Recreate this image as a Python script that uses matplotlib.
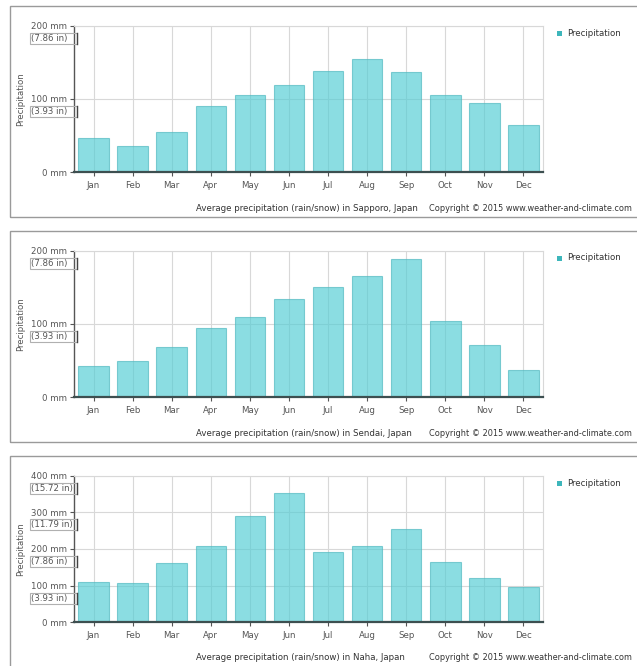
import matplotlib
matplotlib.use('Agg')
import matplotlib.pyplot as plt
from matplotlib.patches import Rectangle
from matplotlib.lines import Line2D
from matplotlib.transforms import IdentityTransform

# ── Data ──────────────────────────────────────────────────────────────────────
MONTHS = ['Jan', 'Feb', 'Mar', 'Apr', 'May', 'Jun',
          'Jul', 'Aug', 'Sep', 'Oct', 'Nov', 'Dec']
CITIES = ['Sapporo', 'Sendai', 'Naha']
sapporo_mm = [47, 36, 55, 91, 105, 119, 138, 154, 137, 106, 94, 65]
sendai_mm = [42, 50, 69, 95, 110, 134, 151, 165, 188, 104, 71, 37]
naha_mm = [110, 108, 163, 209, 290, 353, 192, 207, 255, 164, 122, 97]
SERIES = [sapporo_mm, sendai_mm, naha_mm]
YTICKS = [[0, 100, 200], [0, 100, 200], [0, 100, 200, 300, 400]]
INCH_LABELS = {100: '(3.93 in)', 200: '(7.86 in)', 300: '(11.79 in)', 400: '(15.72 in)'}

# ── Layout (pixels) ───────────────────────────────────────────────────────────
W, H = 637, 666
DPI = 100
OFFSETS = [0, 225, 450]
AX_LEFT, AX_W = 74, 469
AX_TOP, AX_H = 25.7, 146.5

BAR_FACE = '#55CDD5'
BAR_EDGE = '#4FB9C0'
GRID = '#d8d8d8'
TXT = '#555555'
FS = 6.2

fig = plt.figure(figsize=(W / DPI, H / DPI), dpi=DPI)
fig.patch.set_facecolor('white')


def fig_rect(left, top, width, height):
    return [left / W, 1 - (top + height) / H, width / W, height / H]


def px_text(x, y_top, s, size=FS, **kw):
    fig.text(x / W, 1 - y_top / H, s, fontsize=size, **kw)


for off, city, vals, yticks in zip(OFFSETS, CITIES, SERIES, YTICKS):
    # panel frame
    fig.add_artist(Rectangle((10 / W, 1 - (off + 216.5) / H), 640 / W, 210.5 / H,
                             transform=fig.transFigure, fill=False,
                             ec='#9a9a9a', lw=1))

    ax = fig.add_axes(fig_rect(AX_LEFT, off + AX_TOP, AX_W, AX_H))
    ymax = yticks[-1]
    ax.set_xlim(0, 12)
    ax.set_ylim(0, ymax)

    xs = [i + 0.5 for i in range(12)]
    for x in xs:
        ax.axvline(x, color=GRID, lw=0.8, zorder=0)
    for v in yticks[1:]:
        ax.axhline(v, color=GRID, lw=0.8, zorder=0)

    ax.bar(xs, vals, width=0.78, color=BAR_FACE, alpha=0.68,
           edgecolor=BAR_EDGE, linewidth=0.8, zorder=2)

    for side in ['top', 'right']:
        ax.spines[side].set_color(GRID)
        ax.spines[side].set_linewidth(0.8)
    ax.spines['left'].set_color('#555555')
    ax.spines['left'].set_linewidth(1.0)
    ax.spines['bottom'].set_color('#3d4f50')
    ax.spines['bottom'].set_linewidth(1.6)
    ax.spines['bottom'].set_zorder(3)

    ax.set_xticks(xs)
    ax.set_xticklabels(MONTHS)
    ax.set_yticks(yticks)
    ax.set_yticklabels([f'{v} mm' for v in yticks])
    ax.tick_params(axis='both', direction='out', length=3, width=0.8,
                   color='#555555', labelsize=FS, labelcolor=TXT)
    ax.tick_params(axis='x', pad=3.5)
    ax.tick_params(axis='y', pad=2)

    ax.set_ylabel('Precipitation', fontsize=FS, color=TXT)
    ax.yaxis.set_label_coords((25 - AX_LEFT) / AX_W, 0.5)

    # inch boxes under each mm tick label
    for v in yticks[1:]:
        yd = ax.transData.transform((0, v))[1]
        fig.add_artist(Rectangle((30, yd - 18), 47, 11, transform=IdentityTransform(),
                                 fill=False, ec='#b0b0b0', lw=0.8))
        fig.add_artist(Line2D([76.5, 76.5], [yd - 18, yd - 7],
                              transform=IdentityTransform(), color='#444444', lw=1.0))
        fig.text(31, yd - 12.5, INCH_LABELS[v], transform=IdentityTransform(),
                 fontsize=FS, color=TXT, ha='left', va='center')

    # legend
    fig.add_artist(Rectangle((556.5 / W, 1 - (off + 35.5) / H), 5 / W, 5 / H,
                             transform=fig.transFigure, fc='#3db6bb', ec='none'))
    px_text(567, off + 33, 'Precipitation', color='#333333', ha='left', va='center')

    # caption
    px_text(196, off + 208, f'Average precipitation (rain/snow) in {city}, Japan',
            color='#333333', ha='left', va='center')
    px_text(429, off + 208, 'Copyright \u00a9 2015 www.weather-and-climate.com',
            size=5.85, color='#333333', ha='left', va='center')

fig.savefig('out.png', dpi=DPI, facecolor='white')
